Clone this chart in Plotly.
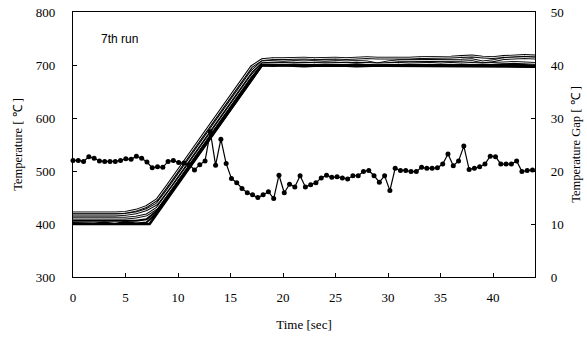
import plotly.graph_objects as go

# ---------------- data ----------------
time_temp = list(range(0, 45))  # sec

temp_ch1 = [421, 421, 421, 420, 421, 422, 426, 433, 446, 473, 501, 529, 557, 585, 613, 641, 669, 697, 710,
            712, 712, 713, 713, 712, 713, 713, 712, 713, 714, 713, 713, 712, 713, 714, 714, 714, 715, 716,
            717, 715, 714, 716, 717, 718, 717]
temp_ch2 = [417, 417, 416, 417, 417, 418, 421, 427, 438, 464, 492, 520, 548, 576, 604, 632, 660, 688, 706,
            707, 708, 707, 706, 707, 708, 707, 706, 707, 706, 702, 706, 708, 708, 708, 709, 708, 709, 709,
            710, 706, 708, 712, 713, 714, 713]
temp_ch3 = [411, 411, 411, 411, 411, 411, 413, 417, 430, 456, 484, 512, 540, 568, 596, 624, 652, 680, 702,
            703, 703, 702, 703, 703, 702, 703, 703, 702, 703, 702, 703, 703, 702, 703, 703, 702, 703, 702,
            703, 702, 703, 704, 705, 704, 703]
temp_ch4 = [406, 406, 406, 405, 406, 406, 406, 409, 425, 452, 480, 508, 536, 564, 592, 620, 648, 676, 700,
            700, 700, 701, 700, 699, 700, 700, 700, 701, 700, 699, 700, 700, 700, 699, 700, 700, 700, 699,
            699, 700, 700, 701, 701, 700, 699]
temp_ch5 = [402, 402, 401, 403, 400, 404, 401, 403, 421, 449, 477, 505, 533, 561, 589, 617, 645, 673, 699,
            698, 699, 698, 697, 698, 698, 699, 698, 697, 698, 698, 699, 698, 698, 697, 698, 697, 698, 698,
            697, 698, 699, 698, 698, 697, 697]

program_time = [0, 7.3, 18.0, 30, 44]
program_temp = [400, 400, 700, 699, 697]

gap_values = [22.0, 22.0, 21.8, 22.7, 22.4, 21.9, 21.8, 21.8, 21.8, 22.0,
              22.3, 22.2, 22.8, 22.4, 21.7, 20.6, 20.8, 20.7, 21.8, 22.0,
              21.6, 21.5, 21.2, 20.2, 21.2, 21.9, 27.4, 21.1, 26.0, 21.4,
              18.6, 17.8, 16.7, 15.9, 15.5, 15.0, 15.5, 16.1, 14.8, 19.2,
              15.9, 17.5, 17.0, 19.1, 17.0, 17.4, 17.8, 18.7, 19.2, 18.8,
              18.9, 18.7, 18.5, 19.1, 19.1, 19.9, 20.1, 19.1, 17.9, 19.1,
              16.3, 20.5, 20.1, 20.1, 19.9, 19.9, 20.7, 20.5, 20.5, 20.6,
              21.3, 23.2, 21.0, 21.9, 24.7, 20.3, 20.5, 20.8, 21.3, 22.8,
              22.7, 21.3, 21.3, 21.3, 21.9, 19.9, 20.1, 20.2]
sample_step = 0.503
gap_time = [round(i * sample_step, 3) for i in range(len(gap_values))]

x_ticks = [0, 5, 10, 15, 20, 25, 30, 35, 40]
y_ticks = [300, 400, 500, 600, 700, 800]
y2_ticks = [0, 10, 20, 30, 40, 50]

# ---------------- figure ----------------
fig = go.Figure()

for ch in [temp_ch1, temp_ch2, temp_ch3]:
    fig.add_trace(go.Scatter(x=time_temp, y=ch, mode="lines",
                             line=dict(color="black", width=2.8), hoverinfo="skip"))
    fig.add_trace(go.Scatter(x=time_temp, y=ch, mode="lines",
                             line=dict(color="white", width=0.9), hoverinfo="skip"))

for ch in [temp_ch4, temp_ch5]:
    fig.add_trace(go.Scatter(x=time_temp, y=ch, mode="lines",
                             line=dict(color="black", width=2.0)))

fig.add_trace(go.Scatter(x=program_time, y=program_temp, mode="lines",
                         line=dict(color="black", width=2.6)))

fig.add_trace(go.Scatter(x=gap_time, y=gap_values, yaxis="y2", mode="lines+markers",
                         line=dict(color="black", width=1.2),
                         marker=dict(symbol="circle", size=5, color="black"),
                         cliponaxis=False))

serif = "Liberation Serif"
fig.add_annotation(x=2.5, y=750, xref="x", yref="y", text="7th run", showarrow=False,
                   xanchor="left", yanchor="middle",
                   font=dict(family="Liberation Sans", size=12, color="black"))

axis_common = dict(showline=True, linecolor="black", linewidth=1.2, showgrid=False,
                   zeroline=False, ticks="inside", ticklen=4, tickcolor="black",
                   automargin=False,
                   tickfont=dict(family=serif, size=13, color="black"))

fig.update_layout(
    width=587, height=341,
    margin=dict(l=73, r=52, t=12, b=64, autoexpand=False),
    plot_bgcolor="white", paper_bgcolor="white",
    showlegend=False,
    font=dict(family=serif, color="black", size=13),
    xaxis=dict(range=[0, 44], tickvals=x_ticks, mirror=True, ticklabelstandoff=8,
               title=dict(text="Time [sec]", font=dict(family=serif, size=13), standoff=16),
               **axis_common),
    yaxis=dict(range=[300, 800], tickvals=y_ticks, mirror=False, ticklabelstandoff=14,
               title=dict(text="Temperature [ ℃ ]", font=dict(family=serif, size=12.5), standoff=10),
               **axis_common),
    yaxis2=dict(range=[0, 50], tickvals=y2_ticks, overlaying="y", side="right",
                ticklabelstandoff=12,
                title=dict(text="Temperature Gap [ ℃ ]", font=dict(family=serif, size=12.5), standoff=8),
                **axis_common),
)

fig.write_html("out.html")
